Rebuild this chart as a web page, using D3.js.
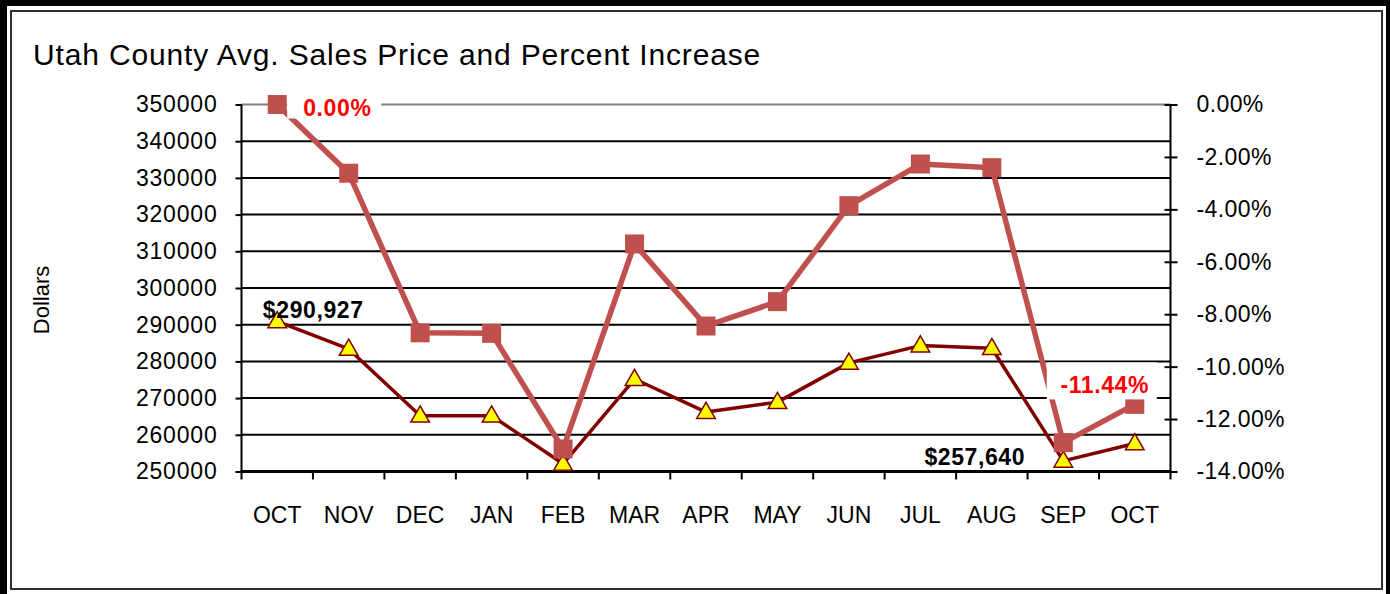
<!DOCTYPE html>
<html>
<head>
    <meta charset="utf-8">
    <title></title>
    <script src="https://d3js.org/d3.v7.min.js"></script>
    <style type="text/css">
        html, body {
            margin: 0;
            padding: 0;
            background: #fff;
        }
        svg text {
            font-family: Arial, "Liberation Sans", sans-serif;
        }
    </style>
</head>
<body>

    <svg id="main"></svg>

    <script>
      // settings
      const width  = 1390;
      const height = 594;
      const margin = {top: 104.5, right: 219.5, bottom: 122.5, left: 241.5};

      // data
      const months   = ["OCT", "NOV", "DEC", "JAN", "FEB", "MAR", "APR", "MAY", "JUN", "JUL", "AUG", "SEP", "OCT"];
      const avgPrice = [290927, 283400, 265200, 265200, 252100, 275200, 266200, 268900, 279600, 284300, 283600, 252900, 257640];
      const pctChange = [0.00, -2.62, -8.71, -8.73, -13.14, -5.32, -8.45, -7.52, -3.86, -2.27, -2.41, -12.90, -11.44];
      const dollarTicks = [250000, 260000, 270000, 280000, 290000, 300000, 310000, 320000, 330000, 340000, 350000];
      const pctTicks    = [0, -2, -4, -6, -8, -10, -12, -14];

      const title = "Utah County Avg. Sales Price and Percent Increase";

      const PCT_COLOR    = "#c0504d";
      const PRICE_COLOR  = "#800000";

      // plain hyphen for negatives, like the original
      const fmtPct = d => d3.format(".2f")(d).replace("\u2212", "-") + "%";
      const fmtUsd = d3.format("$,");

      var svg = d3.select("#main")
        .attr('width', width)
        .attr('height', height);

      // frame
      svg.append("rect")
         .attr("x", 0).attr("y", 0)
         .attr("width", width).attr("height", height + 10)
         .attr("fill", "#000");
      svg.append("rect")
         .attr("x", 7).attr("y", 6)
         .attr("width", 1386 - 7).attr("height", 620)
         .attr("fill", "#fff");
      svg.append("rect")
         .attr("x", 11).attr("y", 11)
         .attr("width", 1371).attr("height", 578)
         .attr("fill", "none")
         .attr("stroke", "#303030")
         .attr("stroke-width", 2);

      const plotW = width - margin.left - margin.right;
      const plotH = height - margin.top - margin.bottom;

      const x = d3.scaleBand()
        .domain(d3.range(months.length))
        .range([margin.left, margin.left + plotW]);

      const yL = d3.scaleLinear()
        .domain([250000, 350000])
        .range([margin.top + plotH, margin.top]);

      const yR = d3.scaleLinear()
        .domain([-14, 0])
        .range([margin.top + plotH, margin.top]);

      const cx = i => x(i) + x.bandwidth() / 2;

      // title
      svg.append("text")
         .attr("x", 33)
         .attr("y", 65)
         .attr("font-size", 30)
         .attr("letter-spacing", 0.85)
         .attr("fill", "#000")
         .text(title);

      // gridlines
      const g = svg.append("g");
      g.selectAll("line.grid")
       .data(dollarTicks)
       .enter()
       .append("line")
       .attr("class", "grid")
       .attr("x1", margin.left)
       .attr("x2", margin.left + plotW)
       .attr("y1", d => yL(d))
       .attr("y2", d => yL(d))
       .attr("stroke", d => d === 350000 ? "#808080" : "#000")
       .attr("stroke-width", 2);

      // left axis
      const axisL = d3.axisLeft(yL)
        .tickValues(dollarTicks)
        .tickSize(6)
        .tickPadding(18)
        .tickFormat(d3.format("d"));
      const gl = svg.append("g")
        .attr("transform", `translate(${margin.left},0)`)
        .call(axisL);
      gl.select(".domain").remove();
      gl.selectAll(".tick line").attr("stroke", "#000").attr("stroke-width", 2);
      gl.selectAll(".tick text")
        .attr("font-size", 23)
        .attr("letter-spacing", 0.8)
        .attr("font-family", "Arial, 'Liberation Sans', sans-serif")
        .attr("fill", "#000");
      svg.append("line")
         .attr("x1", margin.left).attr("x2", margin.left)
         .attr("y1", margin.top).attr("y2", margin.top + plotH + 1)
         .attr("stroke", "#000").attr("stroke-width", 2);

      // right axis
      const axisR = d3.axisRight(yR)
        .tickValues(pctTicks)
        .tickSize(7)
        .tickPadding(20)
        .tickFormat(fmtPct);
      const gr = svg.append("g")
        .attr("transform", `translate(${margin.left + plotW},0)`)
        .call(axisR);
      gr.select(".domain").remove();
      gr.selectAll(".tick line")
        .attr("x1", -6)
        .attr("stroke", "#000").attr("stroke-width", 2);
      gr.selectAll(".tick text")
        .attr("font-size", 23)
        .attr("letter-spacing", 0.4)
        .attr("font-family", "Arial, 'Liberation Sans', sans-serif")
        .attr("fill", "#000")
        .attr("x", 26);
      svg.append("line")
         .attr("x1", margin.left + plotW).attr("x2", margin.left + plotW)
         .attr("y1", margin.top).attr("y2", margin.top + plotH + 1)
         .attr("stroke", "#000").attr("stroke-width", 2);

      // bottom axis
      svg.append("line")
         .attr("x1", margin.left - 1).attr("x2", margin.left + plotW + 1)
         .attr("y1", margin.top + plotH).attr("y2", margin.top + plotH)
         .attr("stroke", "#000").attr("stroke-width", 3);
      svg.append("g")
         .selectAll("line")
         .data(d3.range(months.length + 1))
         .enter()
         .append("line")
         .attr("x1", i => margin.left + i * x.bandwidth())
         .attr("x2", i => margin.left + i * x.bandwidth())
         .attr("y1", margin.top + plotH)
         .attr("y2", margin.top + plotH + 8)
         .attr("stroke", "#000").attr("stroke-width", 2);
      svg.append("g")
         .selectAll("text")
         .data(months)
         .enter()
         .append("text")
         .attr("x", (d, i) => cx(i))
         .attr("y", 523)
         .attr("text-anchor", "middle")
         .attr("font-size", 23)
         .attr("fill", "#000")
         .text(d => d);

      // y title
      svg.append("text")
         .attr("transform", "translate(49,300) rotate(-90)")
         .attr("text-anchor", "middle")
         .attr("font-size", 22)
         .attr("fill", "#000")
         .text("Dollars");

      // price series
      const linePrice = d3.line()
        .x((d, i) => cx(i))
        .y(d => yL(d));
      svg.append("path")
         .datum(avgPrice)
         .attr("d", linePrice)
         .attr("fill", "none")
         .attr("stroke", PRICE_COLOR)
         .attr("stroke-width", 3.5)
         .attr("stroke-linejoin", "round");
      const tri = d3.symbol().type(d3.symbolTriangle).size(150);
      svg.append("g")
         .selectAll("path")
         .data(avgPrice)
         .enter()
         .append("path")
         .attr("d", tri)
         .attr("transform", (d, i) => `translate(${cx(i)},${yL(d) + 1})`)
         .attr("fill", "#ffff00")
         .attr("stroke", PRICE_COLOR)
         .attr("stroke-width", 1.5);

      // percent series
      const linePct = d3.line()
        .x((d, i) => cx(i))
        .y(d => yR(d));
      svg.append("path")
         .datum(pctChange)
         .attr("d", linePct)
         .attr("fill", "none")
         .attr("stroke", PCT_COLOR)
         .attr("stroke-width", 5.5)
         .attr("stroke-linejoin", "round");
      svg.append("g")
         .selectAll("rect")
         .data(pctChange)
         .enter()
         .append("rect")
         .attr("x", (d, i) => cx(i) - 9.5)
         .attr("y", d => yR(d) - 9.5)
         .attr("width", 19)
         .attr("height", 19)
         .attr("fill", PCT_COLOR);

      // data labels
      const last = months.length - 1;

      svg.append("rect")
         .attr("x", cx(0) + 10).attr("y", yR(pctChange[0]) - 14)
         .attr("width", 94).attr("height", 28)
         .attr("fill", "#fff");
      svg.append("text")
         .attr("x", cx(0) + 26).attr("y", yR(pctChange[0]) + 11)
         .attr("font-size", 23).attr("font-weight", "bold")
         .attr("letter-spacing", 0.6)
         .attr("fill", "#ff0000")
         .text(fmtPct(pctChange[0]));

      svg.append("rect")
         .attr("x", cx(last) - 88).attr("y", yR(pctChange[last]) - 42)
         .attr("width", 110).attr("height", 37)
         .attr("fill", "#fff");
      svg.append("text")
         .attr("x", cx(last) - 30).attr("y", yR(pctChange[last]) - 11)
         .attr("text-anchor", "middle")
         .attr("font-size", 23).attr("font-weight", "bold")
         .attr("letter-spacing", 0.6)
         .attr("fill", "#ff0000")
         .text(fmtPct(pctChange[last]));

      svg.append("text")
         .attr("x", cx(0) + 36).attr("y", yL(avgPrice[0]) - 3)
         .attr("text-anchor", "middle")
         .attr("font-size", 23).attr("font-weight", "bold")
         .attr("letter-spacing", 0.6)
         .attr("fill", "#000")
         .text(fmtUsd(avgPrice[0]));

      svg.append("text")
         .attr("x", cx(last) - 160).attr("y", yL(avgPrice[last]) + 22)
         .attr("text-anchor", "middle")
         .attr("font-size", 23).attr("font-weight", "bold")
         .attr("letter-spacing", 0.6)
         .attr("fill", "#000")
         .text(fmtUsd(avgPrice[last]));
    </script>

</body>
</html>
